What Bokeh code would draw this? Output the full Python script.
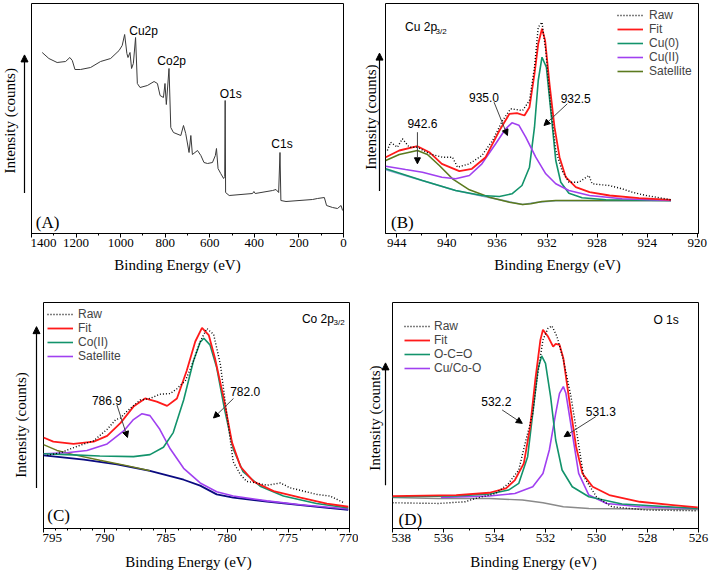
from bokeh.plotting import figure
from bokeh.layouts import column, row
from bokeh.models import (Range1d, SingleIntervalTicker, Label, Arrow,
                          NormalHead, Legend, LegendItem)
from bokeh.embed import file_html
from bokeh.resources import INLINE

# ---------------- data ----------------
# (A) survey spectrum
a_energy = [1352, 1322, 1285, 1247, 1228, 1217, 1205, 1180, 1135, 1090, 1045, 1007, 993, 982,
            972, 967, 958, 951, 943, 933, 925, 913, 880, 850, 835, 823, 808, 801, 795, 783,
            775, 763, 730, 718, 708, 693, 685, 678, 655, 640, 626, 610, 588, 575, 570, 563,
            551, 538, 533, 531, 529, 513, 408, 402, 396, 318, 303, 291, 285, 281, 258, 139,
            117, 86, 76, 49, 27, 11, 4]
a_counts = [181, 175, 171, 172, 176, 173, 164, 164, 166, 172, 175, 183, 188, 199,
            180, 176, 181, 165, 170, 196, 150, 146, 148, 152, 150, 138, 136, 150, 129, 165,
            106, 101, 98, 108, 100, 81, 98, 79, 83, 78, 71, 70, 71, 78, 85, 65,
            60, 55, 57, 133, 41, 38, 40, 42, 40, 43, 44, 41, 81, 33, 32, 34,
            35, 36, 28, 26, 25, 28, 23]
a_peaks = ["Cu2p", "Co2p", "O1s", "C1s"]

# (B) Cu 2p3/2
b_raw_e = [944.75, 944.5, 943.95, 943.55, 943.0, 942.35, 941.4, 940.35, 939.55, 939.15, 938.2,
           937.2, 936.35, 935.55, 934.9, 933.95, 933.4, 933.0, 932.7, 932.4, 932.1, 931.7,
           931.3, 930.8, 930.25, 929.45, 928.65, 928.4, 927.05, 926.0, 925.2, 924.1, 923.3, 922.1]
b_raw_y = [83, 91.3, 86.3, 94.7, 86.3, 86.3, 79.7, 76.3, 76.3, 66.3, 69.7,
           78, 93, 113, 124.7, 123, 133, 166.3, 206.3, 211.3, 183, 126.3,
           83, 63, 51.3, 51.3, 58, 49.7, 48, 44.7, 41.3, 38, 36.3, 33.7]
b_fit_e = [944.88, 943.8, 942.35, 941.4, 940.4, 939.0, 938.0, 936.9, 935.8, 935.0, 934.4, 933.8,
           933.4, 933.0, 932.7, 932.4, 932.15, 931.8, 931.4, 931.0, 930.5, 929.7, 928.6,
           927.0, 924.65, 922.1]
b_fit_y = [76.3, 83, 87.3, 81.3, 69.7, 62.3, 64.7, 76.3, 103, 119.7, 120.3, 118,
           126.3, 159.7, 189.7, 204.7, 193, 149.7, 106.3, 76.3, 56.3, 46.3, 41.3,
           38, 35.3, 33.7]
b_cu0_e = [944.88, 941.95, 939.3, 937.2, 935.8, 934.8, 934.0, 933.4, 933.0, 932.7, 932.4,
           932.05, 931.7, 931.3, 930.9, 930.25, 929.2, 927.3, 922.1]
b_cu0_y = [64.7, 53, 43, 38, 37, 39.7, 48, 66.3, 106.3, 153, 176.3,
           166.3, 123, 73, 51.3, 40.3, 35.7, 33.7, 33]
b_cu2_e = [944.88, 943.3, 941.95, 940.4, 939.3, 938.2, 937.2, 936.1, 935.3, 934.8, 934.25,
           933.7, 932.9, 932.1, 931.3, 930.25, 928.6, 926.0, 922.1]
b_cu2_y = [67.3, 64, 61.3, 56.3, 54.7, 58, 69.7, 89.7, 104.7, 110.7, 108.3,
           96.3, 76.3, 59.7, 49.7, 43, 38, 34.7, 33]
b_sat_e = [944.88, 943.8, 942.35, 941.55, 940.6, 939.55, 938.2, 936.6, 935.0, 933.95, 933.3,
           932.4, 931.3, 922.1]
b_sat_y = [73, 79, 83, 79, 68, 54.7, 43.7, 36.3, 31.3, 29, 29.7,
           32, 33, 33]
b_bg_e = [944.88, 939.3, 933.95, 932.9, 931.3, 922.1]
b_bg_y = [63.7, 43, 29, 31, 32.7, 32.7]
b_peaks = ["942.6", "935.0", "932.5"]

# (C) Co 2p3/2
c_raw_e = [794.7, 793.6, 792.8, 791.7, 790.9, 789.8, 789.1, 788.7, 788.2, 787.1, 786.3, 785.5,
           784.65, 784.1, 783.4, 782.75, 782.2, 781.65, 781.1, 780.55, 780.0, 779.5, 778.9,
           778.4, 777.6, 776.75, 775.65, 774.85, 773.75, 772.7, 771.6, 770.5]
c_raw_y = [75, 77.7, 81.7, 86.7, 90, 101.7, 111.7, 113.3, 120, 131.7, 133.3, 137.7,
           138.3, 143.3, 151.7, 171.7, 191.7, 205, 199, 168.3, 115, 68.3, 55,
           48.3, 46.7, 44.3, 46.7, 41.7, 38.3, 35, 33.3, 26.7]
c_fit_e = [795, 794.2, 792.55, 790.9, 789.8, 788.7, 787.65, 786.7, 785.75, 784.9, 784.1, 783.3,
           782.6, 782.05, 781.5, 781.0, 780.3, 779.6, 778.9, 777.85, 776.2, 774.0, 771.85, 770.1]
c_fit_y = [93.3, 89, 86.7, 89, 95, 108.3, 125, 133.3, 130, 125.7, 133.3, 161.7,
           191.7, 205.7, 198.3, 175, 135, 88.3, 63.3, 48.3, 38.3, 31.7, 25.6, 22.3]
c_co2_e = [795, 793.1, 790.4, 787.65, 786.3, 785.2, 784.4, 783.55, 782.75, 782.2, 781.9, 781.4,
           780.85, 780.2, 779.5, 778.7, 777.3, 775.4, 772.7, 770.1]
c_co2_y = [76.7, 75.7, 74.3, 73.7, 75.7, 83.3, 98.3, 131.7, 171.7, 191, 195, 188.3,
           165, 121.7, 81.7, 58.3, 43.3, 33.3, 25.6, 21]
c_sat_e = [795, 793.1, 791.45, 789.8, 788.45, 787.65, 786.95, 786.3, 785.5, 784.65, 783.55,
           782.2, 780.85, 779.5, 776.75, 774.0, 770.1]
c_sat_y = [76.7, 77.7, 80, 86.7, 100, 111.7, 117.7, 115.7, 101.7, 81.7, 61.7,
           46.7, 37.7, 33.3, 28.3, 24.3, 20]
c_olive_e = [795, 793.9, 792.55, 790.4, 788.2, 786.3]
c_olive_y = [86, 80, 75.7, 70, 64.5, 59.2]
c_bg_e = [795, 791.7, 789.0, 786.3, 783.55, 782.2, 780.85, 779.5, 776.75, 774.0, 770.1]
c_bg_y = [75, 70.7, 65.7, 59, 50, 44, 35, 31.7, 27.7, 24, 19]
c_peaks = ["786.9", "782.0"]

# (D) O 1s
d_raw_e = [538, 536.2, 535.15, 534.75, 533.95, 533.45, 533.05, 532.8, 532.5, 532.3, 532.1,
           531.9, 531.75, 531.55, 531.3, 531.0, 530.75, 530.5, 530.0, 529.4, 528.05, 526.03]
d_raw_y = [25.7, 25, 26.7, 30, 35, 45, 58.4, 85, 115, 155, 188.4,
           200, 202.4, 191.7, 168.4, 131.7, 91.7, 51.7, 31.7, 21.7, 18.4, 17.7]
d_fit_e = [538, 535.5, 534.2, 533.55, 533.2, 532.85, 532.6, 532.4, 532.2, 532.1, 531.9, 531.7,
           531.6, 531.45, 531.3, 531.05, 530.8, 530.55, 530.15, 529.5, 528.3, 527.0, 526.03]
d_fit_y = [32.4, 33.4, 35.7, 40, 48.4, 65, 101.7, 148.4, 188.4, 198.4, 191.7, 181.7,
           184.4, 183.4, 170, 125, 81.7, 55, 41.7, 33.4, 26.7, 23.4, 21]
d_occ_e = [538, 535.5, 534.2, 533.45, 533.05, 532.7, 532.5, 532.3, 532.15, 532.0, 531.8, 531.6,
           531.35, 530.95, 530.3, 529.0, 526.03]
d_occ_y = [31.7, 32.4, 34.4, 38.4, 45, 71.7, 115, 158.4, 172.4, 165, 131.7, 88.4,
           58.4, 41.7, 31.7, 24.4, 20]
d_mo_e = [536.1, 534.2, 533.2, 532.5, 532.1, 531.85, 531.6, 531.45, 531.3, 531.2, 530.95, 530.7,
          530.3, 529.6, 528.3, 526.03]
d_mo_y = [31, 32.4, 35, 41.7, 55, 78.4, 115, 135, 141.7, 135, 95, 55,
          33.4, 25, 21.7, 20]
d_bg_e = [538, 536.2, 534.2, 532.9, 532.1, 531.3, 530.3, 526.03]
d_bg_y = [31, 30, 30, 28.4, 25.7, 21.7, 20, 19]
d_peaks = ["532.2", "531.3"]

# ---------------- styling ----------------
SERIF = "Liberation Serif"
SANS = "Liberation Sans"
RED = "#ff1a1a"
TEAL = "#12936b"
PURPLE = "#a040f0"
OLIVE = "#5b7a1e"
XTITLE = "Binding Energy (eV)"
YTITLE = "Intensity (counts)"


def bare_fig(width, height):
    s = figure(width=width, height=height, x_range=Range1d(0, width), y_range=Range1d(0, height),
               output_backend="svg", toolbar_location=None, x_axis_type=None, y_axis_type=None,
               min_border_left=0, min_border_right=0, min_border_top=0, min_border_bottom=0)
    s.grid.visible = False
    s.outline_line_color = None
    return s


def make_fig(width, height, xr, yr, mbr, mbt, mbb, interval, minor):
    p = figure(width=width, height=height, x_range=Range1d(*xr), y_range=Range1d(*yr),
               output_backend="svg", toolbar_location=None,
               min_border_left=1, min_border_right=mbr, min_border_top=mbt,
               min_border_bottom=mbb)
    p.grid.visible = False
    p.outline_line_color = "black"
    p.outline_line_alpha = 1
    p.outline_line_width = 1
    xa = p.xaxis[0]
    xa.ticker = SingleIntervalTicker(interval=interval, num_minor_ticks=minor)
    xa.major_label_text_font = SERIF
    xa.major_label_text_font_size = "13px"
    xa.major_label_text_color = "black"
    xa.major_label_standoff = 1
    xa.major_tick_out = 4
    xa.major_tick_in = 0
    xa.minor_tick_out = 2
    xa.minor_tick_in = 0
    xa.axis_line_color = "black"
    xa.major_tick_line_color = "black"
    xa.minor_tick_line_color = "black"
    p.yaxis.visible = False
    return p


def side_fig(width, height, label_x, label_y, ax, ay0, ay1):
    """Strip left of a panel holding the y title and the upward arrow."""
    s = bare_fig(width, height)
    s.add_layout(Label(x=label_x, y=label_y, text=YTITLE, angle=90,
                       angle_units="deg", text_font=SERIF, text_font_size="15px",
                       text_align="center", text_baseline="middle", text_color="black"))
    s.add_layout(Arrow(x_start=ax, y_start=ay0, x_end=ax, y_end=ay1, line_color="black",
                       line_width=1.2,
                       end=NormalHead(size=7, fill_color="black", line_color="black")))
    return s


def title_strip(height, y, xs):
    """Strip under a row of panels holding the x titles."""
    s = bare_fig(709, height)
    for x in xs:
        s.add_layout(Label(x=x, y=y, text=XTITLE, text_font=SERIF, text_font_size="15px",
                           text_align="center", text_baseline="middle", text_color="black"))
    return s


def txt(p, x, y, t, size="12px", font=SANS, align="center"):
    p.add_layout(Label(x=x, y=y, text=t, text_font=font, text_font_size=size,
                       text_align=align, text_baseline="middle", text_color="black"))


def arrow(p, x0, y0, x1, y1, size=6, color="#444444"):
    p.add_layout(Arrow(x_start=x0, y_start=y0, x_end=x1, y_end=y1, line_color=color,
                       line_width=1,
                       end=NormalHead(size=size, fill_color="black", line_color="black")))


def legend(p, items, vx, vy, standoff):
    lg = Legend(items=[LegendItem(label=l, renderers=[r]) for l, r in items],
                location=(vx, vy), label_text_font=SANS, label_text_font_size="12px",
                glyph_width=26, glyph_height=14, label_height=14, spacing=0, padding=0,
                margin=0, label_standoff=standoff, border_line_alpha=0,
                background_fill_alpha=0)
    p.add_layout(lg)


H1 = 255   # first row of panels
H2 = 262   # second row of panels

# ---------------- (A) ----------------
sA = side_fig(30, H1, 9, 125, 24, 45, 198)
pA = make_fig(325, H1, (1400, 0), (0, 230), 12, 3, 22, 200, 2)
pA.line(a_energy, a_counts, line_color="#3a3a3a", line_width=1)
txt(pA, 897, 203, a_peaks[0])
txt(pA, 771, 173, a_peaks[1])
txt(pA, 506, 140, a_peaks[2])
txt(pA, 276, 90, a_peaks[3])
txt(pA, 1328, 11, "(A)", size="17px", font=SERIF)

# ---------------- (B) ----------------
sB = side_fig(29, H1, 15, 129, 24, 47, 200)
pB = make_fig(325, H1, (944.9, 919.9), (0, 230), 11, 3, 22, 4, 2)
pB.line(b_bg_e, b_bg_y, line_color="#8fa8d8", line_width=1.5)
rB_sat = pB.line(b_sat_e, b_sat_y, line_color=OLIVE, line_width=1.6)
rB_cu0 = pB.line(b_cu0_e, b_cu0_y, line_color=TEAL, line_width=1.6)
rB_cu2 = pB.line(b_cu2_e, b_cu2_y, line_color=PURPLE, line_width=1.6)
rB_fit = pB.line(b_fit_e, b_fit_y, line_color=RED, line_width=1.8)
rB_raw = pB.line(b_raw_e, b_raw_y, line_color="black", line_width=1.4, line_dash="1 2")
legend(pB, [("Raw", rB_raw), ("Fit", rB_fit), ("Cu(0)", rB_cu0), ("Cu(II)", rB_cu2),
            ("Satellite", rB_sat)], 232, 155, 6)
txt(pB, 943.34, 206.3, "Cu 2p", align="left")
txt(pB, 940.9, 202, "3/2", size="8px", align="left")
txt(pB, 941.95, 109.7, b_peaks[0])
arrow(pB, 942.35, 101.3, 942.35, 69.7)
txt(pB, 937.03, 136.3, b_peaks[1])
arrow(pB, 936.23, 131.3, 935.16, 98)
txt(pB, 929.71, 134.7, b_peaks[2])
arrow(pB, 930.38, 129.7, 932.24, 108)
txt(pB, 943.55, 11.3, "(B)", size="17px", font=SERIF)

strip1 = title_strip(35, 26, [177, 557])

# ---------------- (C) ----------------
sC = side_fig(42, H2, 20, 120, 36, 47, 234)
pC = make_fig(316, H2, (795, 770), (0, 231.7), 9, 12, 21, 5, 5)
pC.line(c_bg_e, c_bg_y, line_color="#0a0a80", line_width=1.8)
pC.line(c_olive_e, c_olive_y, line_color="#6b7a1e", line_width=1.4)
rC_sat = pC.line(c_sat_e, c_sat_y, line_color=PURPLE, line_width=1.6)
rC_co2 = pC.line(c_co2_e, c_co2_y, line_color=TEAL, line_width=1.6)
rC_fit = pC.line(c_fit_e, c_fit_y, line_color=RED, line_width=1.8)
rC_raw = pC.line(c_raw_e, c_raw_y, line_color="black", line_width=1.4, line_dash="1 2")
legend(pC, [("Raw", rC_raw), ("Fit", rC_fit), ("Co(II)", rC_co2), ("Satellite", rC_sat)],
       4, 165, 5)
txt(pC, 773.89, 215, "Co 2p", align="left")
txt(pC, 771.31, 211, "3/2", size="8px", align="left")
txt(pC, 789.82, 131.6, c_peaks[0])
arrow(pC, 789.0, 126.6, 788.14, 93.3)
txt(pC, 778.52, 140, c_peaks[1])
arrow(pC, 779.48, 133.3, 781.11, 113.3)
txt(pC, 793.77, 13.3, "(C)", size="17px", font=SERIF)

# ---------------- (D) ----------------
sD = side_fig(33, H2, 16, 128, 27, 50, 192)
pD = make_fig(318, H2, (538, 526), (0, 225.7), 11, 11, 24, 2, 2)
pD.line(d_bg_e, d_bg_y, line_color="#8a8a8a", line_width=1.4)
rD_mo = pD.line(d_mo_e, d_mo_y, line_color=PURPLE, line_width=1.6)
rD_occ = pD.line(d_occ_e, d_occ_y, line_color=TEAL, line_width=1.6)
rD_fit = pD.line(d_fit_e, d_fit_y, line_color=RED, line_width=1.8)
rD_raw = pD.line(d_raw_e, d_raw_y, line_color="black", line_width=1.4, line_dash="1 2")
legend(pD, [("Raw", rD_raw), ("Fit", rD_fit), ("O-C=O", rD_occ), ("Cu/Co-O", rD_mo)],
       12, 153, 4)
txt(pD, 527.27, 208.4, "O 1s")
txt(pD, 533.93, 126.7, d_peaks[0])
arrow(pD, 533.70, 118.4, 532.91, 105)
txt(pD, 529.83, 116.7, d_peaks[1])
arrow(pD, 530.03, 111.7, 531.27, 91.7)
txt(pD, 537.3, 8.7, "(D)", size="17px", font=SERIF)

strip2 = title_strip(18, 9, [188, 533])

layout = column(row(sA, pA, sB, pB), strip1, row(sC, pC, sD, pD), strip2)
open("out.html", "w").write(file_html(layout, INLINE))
